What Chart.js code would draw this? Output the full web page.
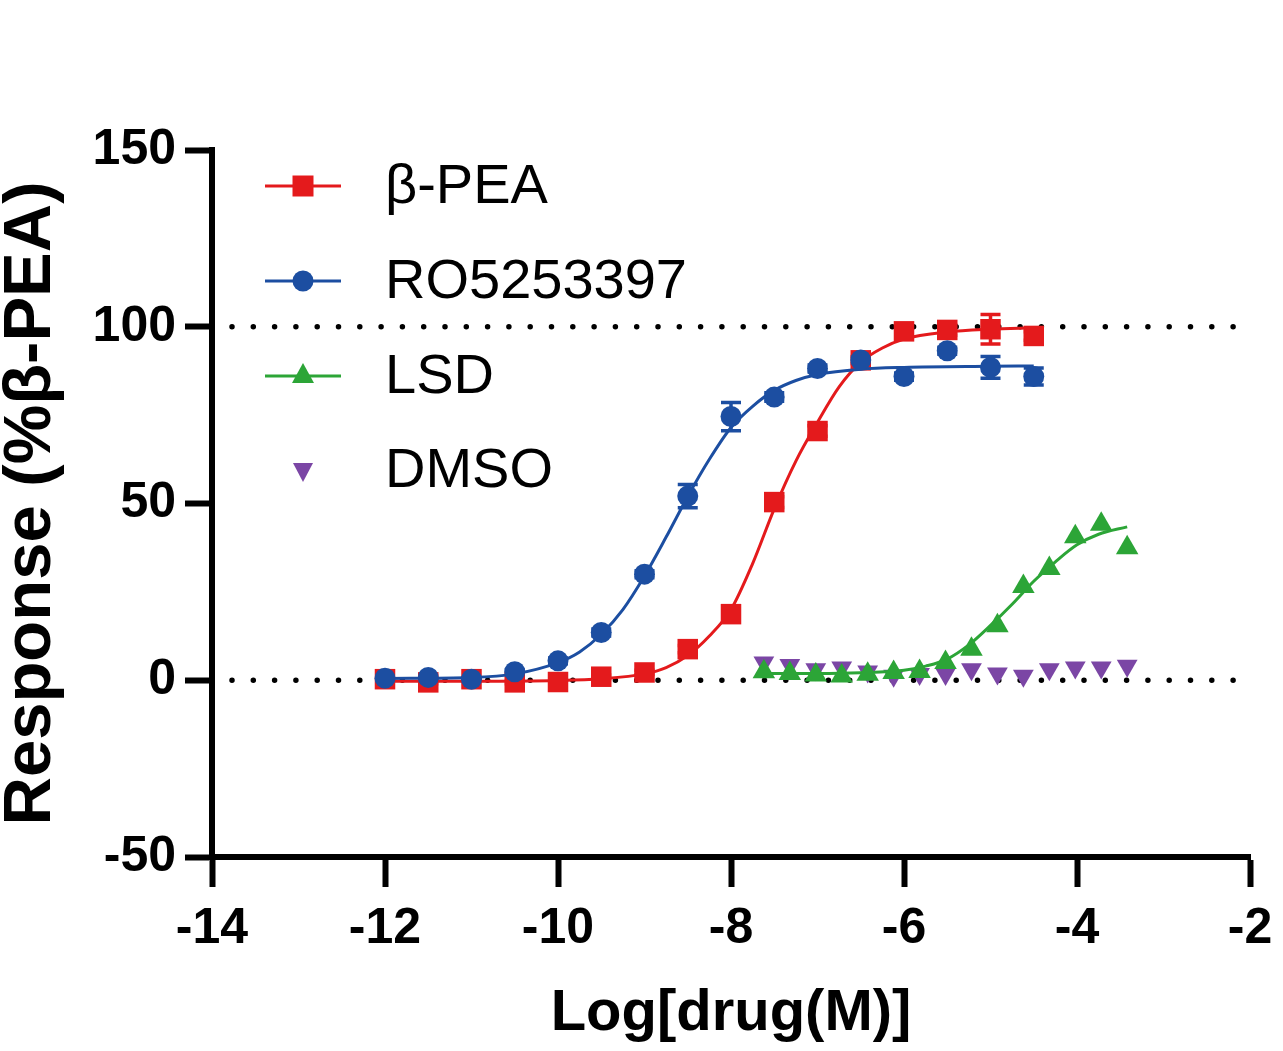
<!DOCTYPE html>
<html lang="en">
<head>
    <meta charset="UTF-8">
    <title>Dose response</title>
    <script src="https://cdn.jsdelivr.net/npm/chart.js"></script>
    <style>
        html, body {
            margin: 0;
            padding: 0;
            background: #ffffff;
        }

        .chart-box {
            width: 1283px;
            height: 1051px;
        }
    </style>
</head>
<body>

    <div class="chart-box">
        <canvas id="doseChart"></canvas>
    </div>

    <script>
        // Axis ticks
        const xTicks = [-14, -12, -10, -8, -6, -4, -2];
        const yTicks = [-50, 0, 50, 100, 150];
        const refLines = [0, 100];

        // beta-PEA and RO5253397 share the same dilution series
        const agonistX = [-12, -11.5, -11, -10.5, -10, -9.5, -9, -8.5, -8, -7.5, -7, -6.5, -6, -5.5, -5, -4.5];
        const peaY   = [0.3, -0.6, 0.3, -0.6, -0.5, 1.0, 2.2, 8.8, 18.7, 50.4, 70.5, 90.5, 98.7, 99.1, 99.3, 97.4];
        const peaErr = [0.4, 0.4, 0.4, 0.4, 0.4, 0.5, 0.6, 1.0, 1.2, 1.5, 1.5, 1.0, 1.0, 1.5, 4.2, 1.2];
        const roY    = [0.6, 0.8, 0.3, 2.4, 5.5, 13.5, 30.0, 52.1, 74.6, 80.1, 88.2, 90.6, 85.9, 93.2, 88.5, 85.9];
        const roErr  = [0.4, 0.4, 0.4, 0.5, 0.8, 1.0, 1.0, 3.3, 4.0, 1.2, 1.0, 1.0, 1.0, 1.0, 3.1, 2.4];

        // LSD and DMSO series
        const lsdX  = [-7.62, -7.32, -7.02, -6.72, -6.42, -6.12, -5.82, -5.52, -5.22, -4.92, -4.62, -4.32, -4.02, -3.72, -3.42];
        const lsdY  = [2.4, 1.9, 1.5, 1.2, 1.7, 2.2, 2.5, 5.0, 8.8, 15.4, 26.5, 31.6, 40.6, 44.1, 37.5];
        const dmsoY = [5.0, 4.3, 3.1, 3.6, 2.5, 1.3, 1.8, 1.8, 3.1, 1.9, 1.3, 3.1, 3.6, 3.6, 4.1];

        // Fitted curves
        const peaFitX = [-12, -11, -10, -9.5, -9, -8.75, -8.5, -8.25, -8, -7.75, -7.5, -7.25, -7, -6.75, -6.5, -6.25, -6, -5.5, -5, -4.5];
        const peaFitY = [-0.3, -0.3, -0.1, 0.4, 1.8, 3.6, 7.0, 12.5, 20.0, 33.0, 48.5, 62.0, 73.0, 83.0, 90.0, 94.0, 96.5, 98.5, 99.3, 99.7];
        const roFitX  = [-12, -11, -10.5, -10, -9.75, -9.5, -9.25, -9, -8.75, -8.5, -8.25, -8, -7.75, -7.5, -7.25, -7, -6.5, -6, -5, -4.5];
        const roFitY  = [0.5, 0.8, 1.8, 5.0, 8.0, 13.0, 20.0, 29.5, 40.5, 52.0, 62.5, 71.5, 77.5, 82.0, 84.8, 86.5, 88.0, 88.5, 88.8, 88.9];
        const lsdFitX = [-7.62, -7, -6.5, -6, -5.75, -5.5, -5.25, -5, -4.75, -4.5, -4.25, -4, -3.75, -3.42];
        const lsdFitY = [1.9, 1.9, 2.1, 2.8, 4.0, 6.0, 10.0, 15.5, 21.5, 28.0, 33.5, 38.3, 41.3, 43.4];

        const seriesNames = ['β-PEA', 'RO5253397', 'LSD', 'DMSO'];
        const seriesColors = ['#e41a1c', '#1c4ea1', '#2ca537', '#7b46a5'];

        const FONT = "'Liberation Sans', Arial, sans-serif";

        function toPoints(xs, ys) {
            return xs.map((x, i) => ({ x: x, y: ys[i] }));
        }

        function markerSet(label, xs, ys, color, style, radius, rotation, errs) {
            return {
                label: label,
                data: toPoints(xs, ys),
                errors: errs || null,
                showLine: false,
                pointStyle: style,
                pointRadius: radius,
                pointRotation: rotation,
                pointBackgroundColor: color,
                pointBorderColor: color,
                pointBorderWidth: 0,
                borderColor: color,
                backgroundColor: color
            };
        }

        function fitSet(xs, ys, color) {
            return {
                label: '',
                data: toPoints(xs, ys),
                borderColor: color,
                borderWidth: 3,
                pointRadius: 0,
                cubicInterpolationMode: 'monotone',
                fill: false
            };
        }

        // error bars drawn under the markers
        const errorBars = {
            id: 'errorBars',
            beforeDatasetsDraw(chart) {
                const ctx = chart.ctx;
                const xs = chart.scales.x;
                const ys = chart.scales.y;
                chart.data.datasets.forEach(ds => {
                    if (!ds.errors) return;
                    ctx.save();
                    ctx.strokeStyle = ds.borderColor;
                    ctx.lineWidth = 3.5;
                    ds.data.forEach((p, i) => {
                        const e = ds.errors[i];
                        const px = xs.getPixelForValue(p.x);
                        const top = ys.getPixelForValue(p.y + e);
                        const bot = ys.getPixelForValue(p.y - e);
                        ctx.beginPath();
                        ctx.moveTo(px, top);
                        ctx.lineTo(px, bot);
                        ctx.moveTo(px - 10, top);
                        ctx.lineTo(px + 10, top);
                        ctx.moveTo(px - 10, bot);
                        ctx.lineTo(px + 10, bot);
                        ctx.stroke();
                    });
                    ctx.restore();
                });
            }
        };

        // legend in the upper left of the plot: line sample + marker + name
        const plotLegend = {
            id: 'plotLegend',
            afterDraw(chart) {
                const ctx = chart.ctx;
                const left = chart.chartArea.left + 53;
                const rowY = [186, 281, 376, 470];
                ctx.save();
                seriesNames.forEach((name, i) => {
                    const y = rowY[i];
                    const cx = left + 38;
                    ctx.fillStyle = seriesColors[i];
                    ctx.strokeStyle = seriesColors[i];
                    if (i < 3) {
                        ctx.lineWidth = 3;
                        ctx.beginPath();
                        ctx.moveTo(left, y);
                        ctx.lineTo(left + 76, y);
                        ctx.stroke();
                    }
                    ctx.beginPath();
                    if (i === 0) {
                        ctx.rect(cx - 10.5, y - 10.5, 21, 21);
                    } else if (i === 1) {
                        ctx.arc(cx, y, 10.5, 0, Math.PI * 2);
                    } else if (i === 2) {
                        ctx.moveTo(cx, y - 13);
                        ctx.lineTo(cx + 11, y + 7);
                        ctx.lineTo(cx - 11, y + 7);
                        ctx.closePath();
                    } else {
                        ctx.moveTo(cx, y + 12);
                        ctx.lineTo(cx + 10, y - 7);
                        ctx.lineTo(cx - 10, y - 7);
                        ctx.closePath();
                    }
                    ctx.fill();
                    ctx.fillStyle = '#000000';
                    ctx.font = '56px ' + FONT;
                    ctx.textAlign = 'left';
                    ctx.textBaseline = 'middle';
                    ctx.fillText(name, left + 120, y + 2);
                });
                ctx.restore();
            }
        };

        const refSets = refLines.map(v => ({
            label: '',
            data: [{ x: xTicks[0], y: v }, { x: xTicks[xTicks.length - 1], y: v }],
            borderColor: '#000000',
            borderWidth: 5.5,
            borderDash: [0, 21.3],
            borderDashOffset: -20,
            borderCapStyle: 'round',
            pointRadius: 0
        }));

        const ctx = document.getElementById('doseChart').getContext('2d');
        const doseChart = new Chart(ctx, {
            type: 'line',
            data: {
                datasets: [
                    markerSet('RO5253397', agonistX, roY, seriesColors[1], 'circle', 10.5, 0, roErr),
                    fitSet(roFitX, roFitY, seriesColors[1]),
                    markerSet('β-PEA', agonistX, peaY, seriesColors[0], 'rect', 14.5, 0, peaErr),
                    fitSet(peaFitX, peaFitY, seriesColors[0]),
                    markerSet('LSD', lsdX, lsdY, seriesColors[2], 'triangle', 13, 0),
                    fitSet(lsdFitX, lsdFitY, seriesColors[2]),
                    markerSet('DMSO', lsdX, dmsoY, seriesColors[3], 'triangle', 12, 180),
                    ...refSets
                ]
            },
            options: {
                responsive: true,
                maintainAspectRatio: false,
                animation: false,
                layout: {
                    padding: { top: 150, right: 33, left: 0, bottom: 0 }
                },
                plugins: {
                    legend: { display: false },
                    tooltip: { enabled: false }
                },
                scales: {
                    x: {
                        type: 'linear',
                        min: xTicks[0],
                        max: xTicks[xTicks.length - 1],
                        afterBuildTicks: s => { s.ticks = xTicks.map(v => ({ value: v })); },
                        afterFit: s => {
                            s.height = 194;
                            s.paddingLeft = 0;
                            s.paddingRight = 0;
                        },
                        border: { display: true, color: '#000000', width: 6 },
                        grid: {
                            drawOnChartArea: false,
                            drawTicks: true,
                            tickLength: 30,
                            tickWidth: 6,
                            tickColor: '#000000'
                        },
                        ticks: {
                            color: '#000000',
                            padding: 17,
                            maxRotation: 0,
                            autoSkip: false,
                            font: { family: FONT, size: 50, weight: 'bold', lineHeight: 1 }
                        },
                        title: {
                            display: true,
                            text: 'Log[drug(M)]',
                            color: '#000000',
                            padding: { top: 0, bottom: 8 },
                            font: { family: FONT, size: 58, weight: 'bold', lineHeight: 1 }
                        }
                    },
                    y: {
                        type: 'linear',
                        min: yTicks[0],
                        max: yTicks[yTicks.length - 1],
                        afterBuildTicks: s => { s.ticks = yTicks.map(v => ({ value: v })); },
                        afterFit: s => {
                            s.width = 212;
                            s.paddingTop = 0;
                            s.paddingBottom = 0;
                        },
                        border: { display: true, color: '#000000', width: 6 },
                        grid: {
                            drawOnChartArea: false,
                            drawTicks: true,
                            tickLength: 27,
                            tickWidth: 6,
                            tickColor: '#000000'
                        },
                        ticks: {
                            color: '#000000',
                            padding: 9,
                            autoSkip: false,
                            font: { family: FONT, size: 50, weight: 'bold', lineHeight: 1 }
                        },
                        title: {
                            display: true,
                            text: 'Response (%β-PEA)',
                            color: '#000000',
                            padding: { top: 0, bottom: 0 },
                            font: { family: FONT, size: 67, weight: 'bold', lineHeight: 0.94 }
                        }
                    }
                }
            },
            plugins: [errorBars, plotLegend]
        });
    </script>

</body>
</html>
